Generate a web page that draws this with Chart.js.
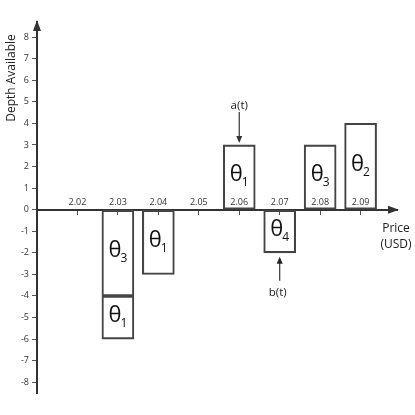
<!DOCTYPE html>
<html>
<head>
<meta charset="utf-8">
<script src="https://cdn.jsdelivr.net/npm/chart.js@4"></script>
<style>
  html, body { margin: 0; padding: 0; background: #fff; }
  #wrap { width: 415px; height: 415px; }
</style>
</head>
<body>
<div id="wrap"><canvas id="myChart"></canvas></div>
<script>
// price levels of each block (2.03 has two stacked blocks)
const prices = [2.03, 2.03, 2.04, 2.06, 2.07, 2.08, 2.09];
const lows   = [-4, -6, -3, 0, -2, 0, 0];
const highs  = [0, -4, 0, 3, 0, 3, 4];
const thetas = ['3', '1', '1', '1', '4', '3', '2'];

// tick labels on the price axis
const priceTicks = [2.02, 2.03, 2.04, 2.05, 2.06, 2.07, 2.08, 2.09];

// annotated levels
const askPrice = 2.06, askDepth = 3;
const bidPrice = 2.07, bidDepth = -2;

const ink = '#333';
const fontFam = "'Open Sans', sans-serif";

const ctx = document.getElementById('myChart');

// axis arrows, axis titles, theta labels, a(t)/b(t)
const extras = {
  id: 'extras',
  afterDraw(chart) {
    const c = chart.ctx;
    const xs = chart.scales.x, ys = chart.scales.y;
    const area = chart.chartArea;
    const y0 = ys.getPixelForValue(0);

    c.save();
    c.fillStyle = ink;
    c.strokeStyle = ink;

    // arrow heads
    c.beginPath();
    c.moveTo(area.left, area.top - 2);
    c.lineTo(area.left - 4, area.top + 9);
    c.lineTo(area.left + 4, area.top + 9);
    c.closePath();
    c.fill();
    c.beginPath();
    c.moveTo(area.right + 2, y0);
    c.lineTo(area.right - 9, y0 - 4);
    c.lineTo(area.right - 9, y0 + 4);
    c.closePath();
    c.fill();

    // theta labels
    const meta = chart.getDatasetMeta(0);
    c.textBaseline = 'middle';
    meta.data.forEach((bar, i) => {
      const cy = (bar.y + bar.base) / 2;
      c.font = '22px ' + fontFam;
      c.textAlign = 'center';
      c.fillStyle = '#111';
      const w = c.measureText('θ').width;
      c.fillText('θ', bar.x - 3, cy - 2);
      c.font = '12px ' + fontFam;
      c.textAlign = 'left';
      c.fillText(thetas[i], bar.x - 3 + w / 2 - 1, cy + 6);
    });

    // a(t) arrow
    c.fillStyle = ink;
    c.lineWidth = 1.2;
    const ax = xs.getPixelForValue(askPrice);
    const ay = ys.getPixelForValue(askDepth);
    c.beginPath();
    c.moveTo(ax, ay - 33);
    c.lineTo(ax, ay - 6);
    c.stroke();
    c.beginPath();
    c.moveTo(ax, ay - 2);
    c.lineTo(ax - 3, ay - 9);
    c.lineTo(ax + 3, ay - 9);
    c.closePath();
    c.fill();
    c.font = '11.5px ' + fontFam;
    c.textAlign = 'center';
    c.fillStyle = '#222';
    c.fillText('a(t)', ax, ay - 39);

    // b(t) arrow
    const bx = xs.getPixelForValue(bidPrice);
    const by = ys.getPixelForValue(bidDepth);
    c.beginPath();
    c.moveTo(bx, by + 28);
    c.lineTo(bx, by + 8);
    c.stroke();
    c.beginPath();
    c.moveTo(bx, by + 4);
    c.lineTo(bx - 3, by + 11);
    c.lineTo(bx + 3, by + 11);
    c.closePath();
    c.fill();
    c.fillText('b(t)', bx - 2, by + 40);

    // x axis title
    c.font = '12px ' + fontFam;
    c.textAlign = 'center';
    c.fillText('Price', 396, y0 + 19);
    c.fillText('(USD)', 396, y0 + 35);

    // y axis title
    c.translate(12, 78);
    c.rotate(-Math.PI / 2);
    c.fillText('Depth Available', 0, 0);
    c.restore();
  }
};

new Chart(ctx, {
  type: 'bar',
  data: {
    datasets: [{
      data: prices.map((p, i) => ({ x: p, y: [lows[i], highs[i]] })),
      backgroundColor: 'rgba(255,255,255,0)',
      borderColor: '#444',
      borderWidth: 1.4,
      borderSkipped: false,
      barThickness: 32
    }]
  },
  options: {
    responsive: true,
    maintainAspectRatio: false,
    animation: false,
    layout: { padding: { top: 22, bottom: 22, right: 18, left: 0 } },
    plugins: {
      legend: { display: false },
      tooltip: { enabled: false }
    },
    scales: {
      x: {
        type: 'linear',
        position: { y: 0 },
        offset: false,
        min: 2.01,
        max: 2.099,
        afterBuildTicks: (s) => {
          s.ticks = priceTicks.map(v => ({ value: v }));
        },
        ticks: {
          autoSkip: false,
          maxRotation: 0,
          padding: -17,
          color: '#333',
          font: { family: fontFam, size: 9 },
          callback: (v) => v.toFixed(2)
        },
        grid: { display: true, offset: false, drawOnChartArea: false, tickLength: 4, color: '#555' },
        border: { display: true, color: ink, width: 2 }
      },
      y: {
        min: -8.5,
        max: 8.7,
        afterFit: (s) => { s.width = 37; },
        afterBuildTicks: (s) => {
          s.ticks = s.ticks.filter(t => Number.isInteger(t.value));
        },
        ticks: {
          stepSize: 1,
          padding: 3,
          color: '#333',
          font: { family: fontFam, size: 9 }
        },
        grid: { display: true, drawOnChartArea: false, tickLength: 5, color: '#555' },
        border: { display: true, color: ink, width: 2 }
      }
    }
  },
  plugins: [extras]
});
</script>
</body>
</html>
